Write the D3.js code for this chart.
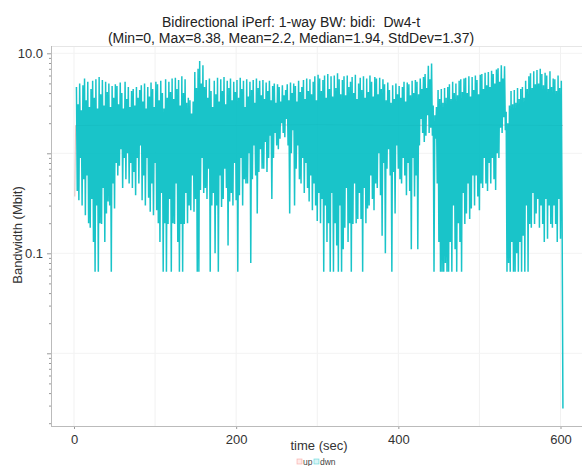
<!DOCTYPE html>
<html><head><meta charset="utf-8">
<script src="https://cdn.jsdelivr.net/npm/d3@7"></script>
<style>
body{margin:0;background:#fff}
svg{display:block;font-family:"Liberation Sans",Arial,Helvetica,sans-serif}
</style>
</head><body>
<svg id="chart" width="582" height="466"></svg>
<script>
// ---------- data ----------
const titleLines = ["Bidirectional iPerf: 1-way BW: bidi:  Dw4-t",
                    "(Min=0, Max=8.38, Mean=2.2, Median=1.94, StdDev=1.37)"];
const xLabel = "time (sec)";
const yLabel = "Bandwidth (Mbit)";
const xTicks = [0, 200, 400, 600];
const xGrid = [0, 100, 200, 300, 400, 500, 600];
const yMajor = [0.001, 0.01, 0.1, 1, 10];
const yLabelled = [10, 0.1];
const yLabelText = ["10.0", "0.1"];
const seriesNames = ["up", "dwn"];
const seriesColors = ["#F8766D", "#00BFC4"];

// downstream bandwidth, one sample per second starting at t = 3 s
const dwnStart = 3;
const dwn = [
4.6,0.42,3.1,0.34,5.0,0.9,2.7,0.30,4.8,0.55,
5.6,0.24,3.4,0.6,5.2,0.2,2.9,0.18,4.4,0.35,
5.3,0.13,3.6,0.0655,5.5,0.3,2.8,0.0655,5.8,0.2,
3.9,0.196,5.4,0.45,3.0,0.13,5.2,0.25,4.1,0.33,
5.0,0.3,2.9,0.0655,4.7,0.5,3.6,0.28,4.9,0.8,
4.7,0.6,3.1,0.75,5.1,1.1,4.0,0.45,2.8,0.9,
5.2,0.55,3.5,1.0,4.6,0.5,2.9,0.8,4.2,0.45,
4.4,0.65,3.0,0.38,4.6,0.9,3.6,0.5,4.3,1.2,
4.8,0.34,3.3,0.6,5.0,0.3,2.8,0.9,4.6,0.36,
3.7,0.26,5.1,0.5,4.4,0.24,2.9,0.8,5.2,0.27,
4.9,0.2,3.4,0.13,5.3,0.4,4.0,0.0655,2.8,0.2,
5.5,0.0655,3.6,0.196,5.2,0.35,4.1,0.0655,5.6,0.2,
3.5,0.196,5.7,0.5,4.4,0.13,5.4,0.0655,3.0,0.196,
5.9,0.0655,4.0,0.196,5.5,0.4,3.2,0.2,3.6,0.3,
3.4,0.27,2.5,0.6,3.3,0.26,6.5,0.35,4.5,0.0655,
7.0,0.0655,8.38,0.43,5.0,0.9,7.6,0.4,4.6,0.45,
5.4,0.35,3.6,0.7,5.6,0.0655,4.2,0.3,2.9,0.4,
5.3,0.1,3.9,0.3,5.7,0.0655,3.3,0.6,5.5,0.29,
4.2,0.35,5.8,0.7,3.1,0.45,5.3,0.12,4.5,0.33,
5.6,0.4,3.4,0.3,5.2,0.8,4.1,0.34,5.4,0.0655,
3.6,0.38,5.7,0.9,4.4,0.3,5.3,0.55,2.9,0.5,
5.5,0.5,3.7,1.0,5.2,0.08,4.3,0.55,5.4,1.2,
3.2,0.6,5.6,0.25,4.5,0.65,5.3,1.1,3.8,0.7,
5.4,0.7,3.5,1.3,5.1,0.65,4.2,0.9,5.3,1.5,
3.4,0.35,4.7,0.9,5.0,1.6,3.2,1.2,4.9,1.1,
4.6,1.4,3.3,2.0,4.8,1.6,3.8,1.45,4.3,2.2,
4.9,1.2,3.4,0.25,5.1,1.0,4.0,1.7,5.0,0.3,
4.7,0.7,3.3,1.2,5.3,0.55,4.1,0.5,4.6,0.9,
5.4,0.4,3.5,0.8,5.6,0.45,4.2,0.33,5.5,0.6,
3.9,0.27,5.2,0.5,5.9,0.3,3.4,0.21,6.1,0.4,
5.6,0.2,4.2,0.35,5.4,0.0655,6.0,0.3,3.6,0.13,
6.2,0.2,4.4,0.0655,5.9,0.4,3.7,0.0655,6.0,0.2,
4.5,0.12,6.3,0.0655,5.5,0.3,3.9,0.0655,5.4,0.11,
5.9,0.18,3.8,0.45,6.0,0.13,4.6,0.2,5.2,0.0655,
5.8,0.196,4.0,0.5,6.1,0.2,3.5,0.22,5.0,0.4,
5.7,0.22,4.3,0.0655,5.9,0.45,3.6,0.2,5.6,0.28,
4.1,0.3,6.0,0.6,5.2,0.35,3.7,0.27,5.8,0.5,
5.6,0.45,3.9,1.0,5.7,0.38,4.4,0.15,5.5,0.8,
4.9,0.1,3.4,0.7,5.1,1.1,4.3,0.6,3.2,0.0655,
4.8,0.65,3.5,0.25,5.0,1.2,3.9,0.7,4.7,0.55,
3.6,0.5,4.6,0.9,5.2,0.6,3.3,0.38,5.1,0.8,
4.9,0.42,3.8,0.11,5.3,0.9,4.0,0.37,5.4,0.6,
5.2,0.11,3.9,1.2,5.6,2.2,4.4,1.6,5.8,1.3,
6.2,1.5,4.5,2.4,7.5,1.6,5.5,1.8,7.9,1.5,
3.0,0.0655,2.4,1.4,2.9,0.5,4.3,0.13,3.5,0.0655,
4.4,0.0655,3.2,0.0655,4.5,0.08,3.6,0.0655,4.6,0.0655,
4.9,0.13,3.5,0.0655,5.2,0.3,4.0,0.11,5.0,0.0655,
3.8,0.2,5.3,0.13,5.5,0.0655,4.1,0.4,5.6,0.196,
5.7,0.25,4.0,0.5,5.9,0.22,3.7,0.28,5.8,0.6,
4.3,0.3,6.0,0.6,5.4,0.37,3.9,0.27,6.1,0.5,
6.2,0.45,4.4,0.9,6.4,0.5,4.8,0.42,6.5,0.8,
4.6,0.5,6.7,0.9,6.2,0.55,5.0,0.43,6.9,1.0,
7.1,0.9,5.2,1.8,7.6,1.6,5.6,2.3,7.4,1.7,
2.6,0.0655,2.0,0.08,3.0,0.0655,4.2,0.13,3.1,0.0655,
4.3,0.0655,3.2,0.1,4.5,0.0655,3.5,0.13,4.4,0.0655,
4.6,0.15,3.6,0.0655,5.3,0.3,4.4,0.0655,5.9,0.196,
6.3,0.18,4.5,0.4,6.6,0.196,4.9,0.25,6.8,0.35,
5.0,0.18,7.0,0.3,6.2,0.196,4.8,0.13,6.4,0.35,
6.0,0.14,4.4,0.3,6.6,0.196,4.6,0.18,5.6,0.3,
5.5,0.196,4.2,0.13,6.0,0.35,4.5,0.14,5.3,0.196,
0.0028
];

// upstream series (mostly hidden behind dwn)
const upTime = [1, 2, 100, 200, 300, 400, 500, 603];
const upVals = [0.37, 1.9, 1.92, 1.9, 1.93, 1.9, 1.92, 1.9];

// ---------- layout ----------
const plot = {left: 51, top: 46, bottom: 426, right: 590};
const svg = d3.select("#chart");

const x = d3.scaleLinear().domain([0, 600]).range([74, 560.5]);
const y = d3.scaleLog().domain([0.1, 10]).range([253.3, 53.3]);

svg.append("defs").append("clipPath").attr("id", "clip")
  .append("rect").attr("x", plot.left).attr("y", plot.top)
  .attr("width", plot.right - plot.left).attr("height", plot.bottom - plot.top);

// grid
const grid = svg.append("g");
grid.selectAll("line.vx").data(xGrid).join("line")
  .attr("x1", d => x(d)).attr("x2", d => x(d))
  .attr("y1", plot.top).attr("y2", plot.bottom)
  .attr("stroke", "#f1f1f1").attr("stroke-width", 1);
grid.selectAll("line.hy").data(yMajor.filter(d => y(d) > plot.top && y(d) < plot.bottom)).join("line")
  .attr("x1", plot.left).attr("x2", plot.right)
  .attr("y1", d => y(d)).attr("y2", d => y(d))
  .attr("stroke", "#f3f3f3").attr("stroke-width", 1);

svg.append("line").attr("x1", plot.left).attr("x2", plot.right)
  .attr("y1", plot.top + 0.5).attr("y2", plot.top + 0.5)
  .attr("stroke", "#e6e6e6");

// series
const g = svg.append("g").attr("clip-path", "url(#clip)");
const dwnPts = dwn.map((v, i) => [dwnStart + i, v]);
const upPts = upTime.map((t, i) => [t, upVals[i]]);
const line = d3.line().x(d => x(d[0])).y(d => y(d[1]));

g.append("path").datum(upPts).attr("d", line)
  .attr("fill", "none").attr("stroke", "#c79a97")
  .attr("stroke-width", 1).attr("stroke-opacity", 0.6);
g.append("path").datum(dwnPts).attr("d", line)
  .attr("fill", "none").attr("stroke", "#00BEC3")
  .attr("stroke-width", 1.5).attr("stroke-opacity", 0.9)
  .attr("stroke-linejoin", "miter").attr("stroke-miterlimit", 1);

// y axis
const yMinor = [];
[-3, -2, -1, 0, 1].forEach(k => { for (let m = 2; m <= 9; m++) yMinor.push(m * Math.pow(10, k)); });
const inRange = v => y(v) >= plot.top && y(v) <= plot.bottom;

const yAxis = svg.append("g").attr("transform", `translate(${plot.left},0)`)
  .call(d3.axisLeft(y).tickValues(yMajor.filter(inRange)).tickSize(4)
    .tickFormat(d => { const i = yLabelled.findIndex(v => Math.abs(v - d) < 1e-9); return i >= 0 ? yLabelText[i] : ""; }));
yAxis.select(".domain").remove();
yAxis.selectAll("text").attr("fill", "#333").attr("font-size", 13)
  .attr("font-family", '"Liberation Sans",Arial,sans-serif').attr("dx", "-1");
yAxis.selectAll(".tick line").attr("stroke", "#999");

const yMinorAxis = svg.append("g").attr("transform", `translate(${plot.left},0)`)
  .call(d3.axisLeft(y).tickValues(yMinor.filter(inRange)).tickSize(2).tickFormat(""));
yMinorAxis.select(".domain").remove();
yMinorAxis.selectAll(".tick line").attr("stroke", "#999");

svg.append("line").attr("x1", plot.left + 0.5).attr("x2", plot.left + 0.5)
  .attr("y1", plot.top).attr("y2", plot.bottom).attr("stroke", "#bbb");

// x axis
const xAxis = svg.append("g").attr("transform", `translate(0,${plot.bottom})`)
  .call(d3.axisBottom(x).tickValues(xTicks).tickSize(3).tickFormat(d3.format("d")));
xAxis.select(".domain").remove();
xAxis.selectAll("text").attr("fill", "#333").attr("font-size", 13)
  .attr("font-family", '"Liberation Sans",Arial,sans-serif').attr("dy", "0.95em");
xAxis.selectAll(".tick line").attr("stroke", "#999");
svg.append("line").attr("x1", plot.left).attr("x2", plot.right)
  .attr("y1", plot.bottom + 0.5).attr("y2", plot.bottom + 0.5).attr("stroke", "#bbb");

// titles
svg.selectAll("text.title").data(titleLines).join("text")
  .attr("x", 291).attr("y", (d, i) => 27 + i * 16)
  .attr("text-anchor", "middle").attr("font-size", 14).attr("fill", "#222")
  .style("white-space", "pre").text(d => d);

svg.append("text").attr("x", 319).attr("y", 450).attr("text-anchor", "middle")
  .attr("font-size", 13).attr("fill", "#333").text(xLabel);
svg.append("text").attr("transform", "translate(22,235) rotate(-90)")
  .attr("text-anchor", "middle").attr("font-size", 13).attr("fill", "#333").text(yLabel);

// legend
const leg = svg.append("g").attr("transform", "translate(297,459)");
let lx = 0;
seriesNames.forEach((name, i) => {
  leg.append("rect").attr("x", lx).attr("y", 0).attr("width", 5).attr("height", 5)
    .attr("fill", seriesColors[i]).attr("fill-opacity", 0.15)
    .attr("stroke", seriesColors[i]).attr("stroke-opacity", 0.5).attr("stroke-width", 0.7);
  const t = leg.append("text").attr("x", lx + 6).attr("y", 6).attr("font-size", 8.5)
    .attr("fill", "#444").text(name);
  lx += 6 + t.node().getComputedTextLength() + 1.5;
});
</script>
</body></html>
